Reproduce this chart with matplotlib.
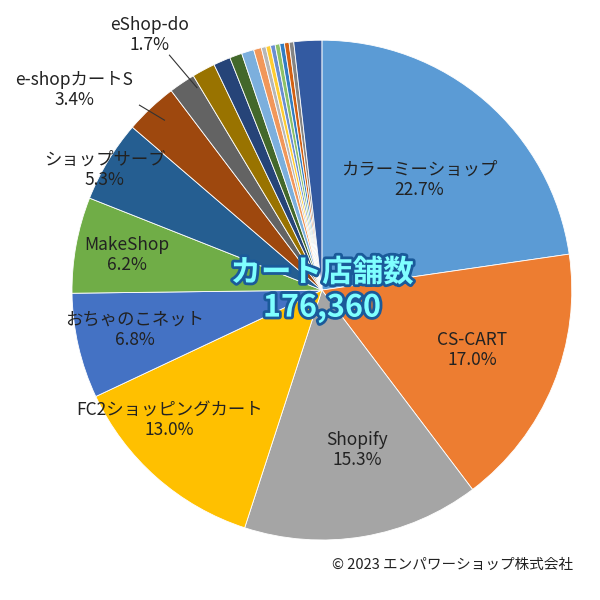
import matplotlib.pyplot as plt
import matplotlib.patheffects as pe

plt.rcParams["font.family"] = "Noto Sans CJK JP"

labels = ["カラーミーショップ", "CS-CART", "Shopify", "FC2ショッピングカート", "おちゃのこネット",
          "MakeShop", "ショップサーブ", "e-shopカートS", "eShop-do",
          "", "", "", "", "", "", "", "", "", "", "", "", ""]
values = [22.7, 17.0, 15.3, 13.0, 6.8, 6.2, 5.3, 3.4, 1.7,
          1.5, 1.1, 0.8, 0.8, 0.5, 0.3, 0.3, 0.3, 0.3, 0.3, 0.3, 0.3, 1.8]
colors = ["#5B9BD5", "#ED7D31", "#A5A5A5", "#FFC000", "#4472C4", "#70AD47", "#255E91",
          "#9E480E", "#636363", "#997300", "#264478", "#43682B", "#7CAFDD", "#F1975A",
          "#B7B7B7", "#FFCD33", "#698ED0", "#8CC168", "#327DC2", "#D26012", "#848484",
          "#335AA1"]

fig = plt.figure(figsize=(6, 6), dpi=100)
ax = fig.add_axes([0.12, 0.1, 0.833, 0.833])
wedges, _ = ax.pie(values, colors=colors, startangle=90, counterclock=False,
                   wedgeprops=dict(edgecolor="white", linewidth=0.6))
ax.set_aspect("equal")
ax.set_xlim(-1, 1)
ax.set_ylim(-1, 1)
ax.set_clip_on(False)

inside = {0: (0.39, 0.44), 1: (0.6, -0.24), 2: (0.14, -0.64), 3: (-0.61, -0.52),
          4: (-0.75, -0.16), 5: (-0.78, 0.14), 6: (-0.87, 0.48)}
for i, (x, y) in inside.items():
    ax.text(x, y, f"{labels[i]}\n{values[i]:.1f}%", ha="center", va="center",
            fontsize=12.5, color="#222222", linespacing=1.15)
ax.text(-0.99, 0.8, f"{labels[7]}\n{values[7]:.1f}%", ha="center", va="center",
        fontsize=12.5, color="#222222", linespacing=1.15, clip_on=False)
ax.text(-0.69, 1.02, f"{labels[8]}\n{values[8]:.1f}%", ha="center", va="center",
        fontsize=12.5, color="#222222", linespacing=1.15, clip_on=False)
ax.plot([-0.61, -0.5], [0.94, 0.81], color="#333333", lw=0.8, clip_on=False)
ax.plot([-0.73, -0.63], [0.74, 0.68], color="#333333", lw=0.8, clip_on=False)

fx = [pe.withStroke(linewidth=4, foreground="#1a5a9a")]
ax.text(0, 0.07, "カート店舗数", ha="center", va="center", fontsize=22, fontweight="bold",
        color="#7FFFFF", path_effects=fx)
ax.text(0, -0.07, "176,360", ha="center", va="center", fontsize=22, fontweight="bold",
        color="#7FFFFF", path_effects=fx)

fig.text(0.955, 0.058, "© 2023 エンパワーショップ株式会社", ha="right", va="center", fontsize=10.5, color="#222222")
fig.savefig("out.png", dpi=100)
